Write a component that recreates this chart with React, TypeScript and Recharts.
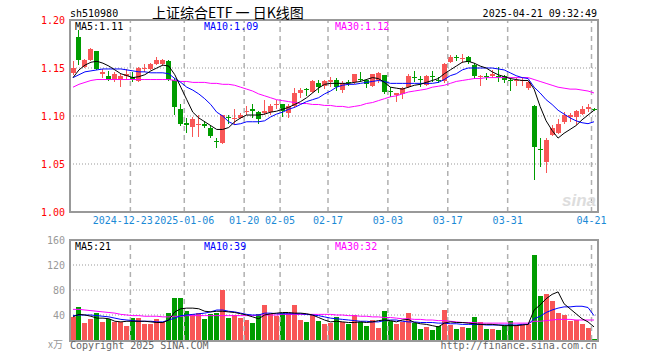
import { ComposedChart, Bar, Line, XAxis, YAxis, CartesianGrid, ReferenceLine } from 'recharts';

// trading days shown on the chart
const dates = [
  '2024-12-09', '2024-12-10', '2024-12-11', '2024-12-12', '2024-12-13', '2024-12-16', '2024-12-17', '2024-12-18', '2024-12-19', '2024-12-20',
  '2024-12-23', '2024-12-24', '2024-12-25', '2024-12-26', '2024-12-27', '2024-12-30', '2024-12-31', '2025-01-02', '2025-01-03', '2025-01-06',
  '2025-01-07', '2025-01-08', '2025-01-09', '2025-01-10', '2025-01-13', '2025-01-14', '2025-01-15', '2025-01-16', '2025-01-17', '2025-01-20',
  '2025-01-21', '2025-01-22', '2025-01-23', '2025-01-24', '2025-01-27', '2025-02-05', '2025-02-06', '2025-02-07', '2025-02-10', '2025-02-11',
  '2025-02-12', '2025-02-13', '2025-02-14', '2025-02-17', '2025-02-18', '2025-02-19', '2025-02-20', '2025-02-21', '2025-02-24', '2025-02-25',
  '2025-02-26', '2025-02-27', '2025-02-28', '2025-03-03', '2025-03-04', '2025-03-05', '2025-03-06', '2025-03-07', '2025-03-10', '2025-03-11',
  '2025-03-12', '2025-03-13', '2025-03-14', '2025-03-17', '2025-03-18', '2025-03-19', '2025-03-20', '2025-03-21', '2025-03-24', '2025-03-25',
  '2025-03-26', '2025-03-27', '2025-03-28', '2025-03-31', '2025-04-01', '2025-04-02', '2025-04-03', '2025-04-07', '2025-04-08', '2025-04-09',
  '2025-04-10', '2025-04-11', '2025-04-14', '2025-04-15', '2025-04-16', '2025-04-17', '2025-04-18', '2025-04-21',
];

const open = [
  1.145, 1.182, 1.151, 1.158, 1.168, 1.144, 1.142, 1.138, 1.138, 1.142,
  1.141, 1.136, 1.149, 1.149, 1.154, 1.154, 1.157, 1.138, 1.107, 1.093,
  1.089, 1.091, 1.092, 1.088, 1.074, 1.072, 1.099, 1.097, 1.098, 1.104,
  1.107, 1.104, 1.103, 1.104, 1.111, 1.112, 1.103, 1.110, 1.124, 1.128,
  1.125, 1.134, 1.131, 1.135, 1.138, 1.127, 1.135, 1.135, 1.139, 1.138,
  1.131, 1.138, 1.143, 1.126, 1.122, 1.123, 1.130, 1.141, 1.139, 1.132,
  1.142, 1.138, 1.136, 1.156, 1.161, 1.159, 1.161, 1.153, 1.141, 1.142,
  1.142, 1.142, 1.142, 1.138, 1.136, 1.137, 1.129, 1.110, 1.066, 1.052,
  1.080, 1.082, 1.094, 1.099, 1.099, 1.102, 1.107, 1.107,
];
const high = [
  1.157, 1.190, 1.159, 1.171, 1.168, 1.149, 1.147, 1.146, 1.144, 1.149,
  1.146, 1.151, 1.154, 1.155, 1.161, 1.159, 1.158, 1.140, 1.112, 1.098,
  1.099, 1.101, 1.095, 1.091, 1.077, 1.101, 1.101, 1.107, 1.103, 1.110,
  1.112, 1.105, 1.117, 1.112, 1.117, 1.113, 1.112, 1.129, 1.129, 1.129,
  1.138, 1.138, 1.137, 1.141, 1.140, 1.136, 1.138, 1.144, 1.146, 1.139,
  1.144, 1.146, 1.143, 1.130, 1.124, 1.130, 1.144, 1.147, 1.142, 1.143,
  1.147, 1.141, 1.155, 1.164, 1.164, 1.165, 1.162, 1.155, 1.143, 1.145,
  1.148, 1.151, 1.143, 1.140, 1.140, 1.140, 1.136, 1.111, 1.077, 1.077,
  1.091, 1.097, 1.104, 1.103, 1.106, 1.110, 1.112, 1.108,
];
const low = [
  1.143, 1.153, 1.150, 1.157, 1.148, 1.140, 1.136, 1.135, 1.130, 1.138,
  1.135, 1.135, 1.146, 1.148, 1.153, 1.152, 1.136, 1.101, 1.090, 1.082,
  1.078, 1.078, 1.088, 1.077, 1.067, 1.071, 1.092, 1.091, 1.097, 1.101,
  1.098, 1.092, 1.101, 1.101, 1.107, 1.099, 1.098, 1.108, 1.119, 1.121,
  1.124, 1.124, 1.128, 1.130, 1.126, 1.124, 1.131, 1.133, 1.135, 1.129,
  1.130, 1.134, 1.123, 1.120, 1.115, 1.118, 1.129, 1.135, 1.130, 1.131,
  1.135, 1.134, 1.134, 1.155, 1.157, 1.155, 1.154, 1.139, 1.131, 1.138,
  1.140, 1.135, 1.134, 1.126, 1.131, 1.131, 1.127, 1.033, 1.047, 1.041,
  1.079, 1.081, 1.092, 1.094, 1.091, 1.101, 1.104, 1.105,
];
const close = [
  1.150, 1.158, 1.158, 1.170, 1.149, 1.146, 1.137, 1.144, 1.142, 1.144,
  1.138, 1.150, 1.150, 1.154, 1.158, 1.158, 1.138, 1.109, 1.092, 1.091,
  1.097, 1.092, 1.090, 1.079, 1.073, 1.101, 1.098, 1.098, 1.101, 1.105,
  1.105, 1.097, 1.105, 1.110, 1.112, 1.105, 1.110, 1.124, 1.127, 1.127,
  1.136, 1.130, 1.136, 1.137, 1.130, 1.134, 1.134, 1.144, 1.138, 1.133,
  1.144, 1.145, 1.125, 1.125, 1.124, 1.129, 1.142, 1.140, 1.138, 1.142,
  1.141, 1.136, 1.154, 1.161, 1.160, 1.160, 1.156, 1.142, 1.142, 1.141,
  1.144, 1.141, 1.138, 1.137, 1.138, 1.138, 1.135, 1.068, 1.065, 1.075,
  1.087, 1.092, 1.101, 1.101, 1.105, 1.107, 1.109, 1.106,
];
// volume, 万手
const volume = [
  37, 53, 28, 34, 43, 29, 34, 29, 29, 23,
  36, 36, 25, 25, 34, 29, 44, 68, 68, 46,
  41, 43, 34, 41, 44, 80, 36, 40, 36, 32,
  28, 42, 56, 42, 39, 44, 44, 56, 32, 29,
  40, 30, 26, 28, 37, 29, 25, 40, 29, 23,
  32, 20, 46, 30, 26, 29, 43, 28, 18, 21,
  16, 22, 48, 24, 18, 21, 19, 37, 29, 18,
  18, 16, 22, 30, 24, 24, 25, 136, 70, 73,
  62, 44, 40, 30, 32, 26, 19, 1.5,
];

// moving averages as drawn
const ma5 = [
  1.140, 1.148, 1.153, 1.156, 1.157, 1.155, 1.152, 1.148, 1.144, 1.142,
  1.140, 1.141, 1.143, 1.147, 1.150, 1.153, 1.152, 1.143, 1.130, 1.117,
  1.104, 1.098, 1.094, 1.090, 1.086, 1.086, 1.088, 1.094, 1.098, 1.101,
  1.101, 1.101, 1.102, 1.104, 1.105, 1.107, 1.109, 1.112, 1.115, 1.119,
  1.124, 1.129, 1.133, 1.134, 1.134, 1.134, 1.134, 1.135, 1.136, 1.138,
  1.140, 1.139, 1.135, 1.130, 1.129, 1.128, 1.130, 1.132, 1.133, 1.135,
  1.137, 1.139, 1.144, 1.148, 1.152, 1.156, 1.157, 1.155, 1.152, 1.150,
  1.146, 1.143, 1.141, 1.139, 1.138, 1.137, 1.137, 1.128, 1.110, 1.095,
  1.085, 1.077, 1.082, 1.086, 1.090, 1.096, 1.101, 1.106,
];
const ma10 = [
  1.140, 1.143, 1.146, 1.147, 1.148, 1.149, 1.149, 1.149, 1.149, 1.148,
  1.147, 1.146, 1.146, 1.145, 1.145, 1.145, 1.144, 1.139, 1.135, 1.130,
  1.127, 1.123, 1.118, 1.112, 1.104, 1.100, 1.094, 1.091, 1.092, 1.094,
  1.094, 1.094, 1.095, 1.099, 1.102, 1.104, 1.107, 1.109, 1.112, 1.115,
  1.117, 1.119, 1.123, 1.126, 1.130, 1.132, 1.133, 1.133, 1.134, 1.135,
  1.136, 1.137, 1.136, 1.134, 1.134, 1.134, 1.134, 1.134, 1.134, 1.134,
  1.134, 1.135, 1.138, 1.142, 1.144, 1.148, 1.150, 1.150, 1.150, 1.150,
  1.150, 1.149, 1.148, 1.145, 1.142, 1.140, 1.139, 1.130, 1.124, 1.117,
  1.112, 1.106, 1.102, 1.098, 1.095, 1.093, 1.092, 1.094,
];
const ma30 = [
  1.130, 1.133, 1.135, 1.137, 1.138, 1.138, 1.138, 1.138, 1.138, 1.138,
  1.138, 1.138, 1.138, 1.138, 1.138, 1.138, 1.138, 1.137, 1.136, 1.136,
  1.135, 1.135, 1.135, 1.134, 1.134, 1.133, 1.133, 1.132, 1.130, 1.128,
  1.126, 1.123, 1.121, 1.119, 1.117, 1.116, 1.115, 1.114, 1.113, 1.113,
  1.112, 1.112, 1.111, 1.111, 1.110, 1.110, 1.109, 1.110, 1.111, 1.113,
  1.114, 1.116, 1.118, 1.120, 1.121, 1.123, 1.125, 1.126, 1.127, 1.128,
  1.130, 1.131, 1.132, 1.134, 1.136, 1.137, 1.138, 1.139, 1.139, 1.140,
  1.140, 1.140, 1.140, 1.140, 1.140, 1.140, 1.140, 1.138, 1.136, 1.134,
  1.132, 1.130, 1.129, 1.128, 1.128, 1.127, 1.126, 1.124,
];
const volMa5 = [
  37, 41, 40, 38, 35, 35, 34, 30, 29, 30,
  30, 30, 30, 29, 28, 28, 32, 45, 50, 51,
  51, 50, 46, 45, 46, 46, 45, 44, 42, 40,
  37, 34, 40, 42, 43, 44, 44, 43, 43, 42,
  40, 36, 32, 29, 30, 29, 28, 28, 29, 28,
  29, 31, 32, 31, 29, 32, 33, 28, 26, 25,
  23, 21, 27, 29, 28, 28, 27, 26, 25, 25,
  25, 24, 23, 23, 23, 24, 25, 48, 56, 66,
  73, 77, 58, 50, 42, 34, 29, 21,
];
const volMa10 = [
  39, 40, 40, 40, 39, 38, 37, 35, 33, 32,
  31, 30, 30, 30, 29, 29, 32, 35, 39, 40,
  41, 42, 43, 45, 48, 48, 46, 45, 43, 41,
  40, 40, 43, 43, 42, 42, 42, 42, 42, 41,
  40, 39, 37, 35, 34, 33, 32, 31, 30, 30,
  29, 29, 31, 32, 32, 30, 29, 29, 28, 28,
  28, 27, 27, 26, 26, 25, 25, 25, 25, 24,
  24, 24, 24, 24, 24, 25, 25, 34, 38, 44,
  48, 51, 53, 53, 54, 54, 52, 39,
];
const volMa30 = [
  49, 49, 48, 47, 46, 45, 44, 43, 41, 40,
  39, 39, 38, 38, 38, 37, 37, 38, 38, 39,
  39, 39, 39, 39, 39, 39, 39, 39, 39, 39,
  39, 40, 40, 40, 40, 41, 41, 41, 41, 41,
  41, 41, 41, 41, 40, 40, 39, 39, 38, 38,
  37, 37, 36, 36, 35, 34, 34, 33, 33, 32,
  32, 31, 31, 30, 29, 28, 28, 28, 27, 27,
  27, 27, 27, 27, 27, 27, 27, 30, 30, 31,
  32, 33, 33, 33, 32, 32, 32, 32,
];

const gridDates = ['2024-12-23', '2025-01-06', '2025-01-20', '2025-02-05', '2025-02-17', '2025-03-03', '2025-03-17', '2025-03-31', '2025-04-21'];
const priceTicks = [1.0, 1.05, 1.1, 1.15, 1.2];
const volTicks = [40, 80, 120, 160];

const RED = '#f85656';
const GREEN = '#009c00';
const MONO = '"DejaVu Sans Mono", monospace';
const GRID_SHIFT = -2.5; // sina draws its date lines a little left of the candle centre

const rows = dates.map((date, i) => ({
  date,
  open: open[i],
  high: high[i],
  low: low[i],
  close: close[i],
  range: [low[i], high[i]],
  vol: volume[i],
  ma5: ma5[i],
  ma10: ma10[i],
  ma30: ma30[i],
  vma5: volMa5[i],
  vma10: volMa10[i],
  vma30: volMa30[i],
}));

// candle drawn inside the [low, high] bar that recharts positions for us
const Candle = (props: any) => {
  const { x, y, width, height, payload } = props;
  if (x == null || !payload) return null;
  const top = Math.min(y, y + height);
  const h = Math.abs(height);
  const span = payload.high - payload.low;
  const toY = (v: number) => (span > 0 ? top + ((payload.high - v) / span) * h : top);
  const color = payload.close >= payload.open ? RED : GREEN;
  const px = Math.floor(x + width / 2);
  const bTop = Math.round(toY(Math.max(payload.open, payload.close)));
  const bBot = Math.round(toY(Math.min(payload.open, payload.close)));
  return (
    <g>
      <line x1={px + 0.5} x2={px + 0.5} y1={Math.round(top)} y2={Math.round(top + h)} stroke={color} strokeWidth={1} />
      <rect x={px - 2} y={bTop} width={5} height={Math.max(1, bBot - bTop)} fill={color} />
    </g>
  );
};

const VolBar = (props: any) => {
  const { x, y, width, height, payload } = props;
  if (x == null || !payload) return null;
  const color = payload.close >= payload.open ? RED : GREEN;
  const px = Math.floor(x + width / 2);
  const t = Math.round(Math.min(y, y + height));
  const b = Math.round(Math.max(y, y + height));
  return <rect x={px - 2} y={b - Math.max(1, b - t)} width={5} height={Math.max(1, b - t)} fill={color} />;
};

const fmtDate = (d: string) => (d < '2025-01-07' ? d : d.slice(5));

const DateTick = (props: any) => {
  const { x, y, payload } = props;
  const d = payload.value;
  const first = d === gridDates[0];
  return (
    <text
      x={first ? x + 20 : x + GRID_SHIFT}
      y={y}
      dy="0.71em"
      textAnchor={first ? 'end' : 'middle'}
      fill="#1b8ad6"
      fontSize={10}
      fontFamily={MONO}
    >
      {fmtDate(d)}
    </text>
  );
};

const GridLine = (p: any) => (
  <line x1={p.x1 + GRID_SHIFT} x2={p.x2 + GRID_SHIFT} y1={p.y1} y2={p.y2} stroke="#b0b0b0" strokeWidth={1.5} strokeDasharray="5 4" />
);

export default function App() {
  const last = rows.length - 1;
  const textStyle = { fontFamily: MONO, fontSize: 10 };

  return (
    <div style={{ position: 'absolute', left: 0, top: 0, width: 660, height: 360, background: '#fff', overflow: 'hidden' }}>
      {/* price panel */}
      <div style={{ position: 'absolute', left: 0, top: 0 }}>
        <ComposedChart width={660} height={232} data={rows} margin={{ top: 20, right: 63, bottom: 0, left: 0 }} barCategoryGap={0} barGap={0}>
          <CartesianGrid vertical={false} stroke="#999" strokeDasharray="1 2" />
          {gridDates.map((d) => (
            <ReferenceLine key={d} x={d} shape={GridLine} />
          ))}
          <XAxis
            dataKey="date"
            ticks={gridDates}
            interval={0}
            axisLine={false}
            tickLine={false}
            tickSize={0}
            tickMargin={5}
            height={20}
            tick={<DateTick />}
          />
          <YAxis
            domain={[1.0, 1.2]}
            ticks={priceTicks}
            allowDataOverflow
            width={70}
            axisLine={false}
            tickLine={false}
            tickSize={0}
            tickMargin={5}
            tickFormatter={(v: number) => v.toFixed(2)}
            tick={{ fill: '#f00', fontSize: 10, fontFamily: MONO }}
          />
          <Bar dataKey="range" shape={(p: any) => <Candle {...p} />} isAnimationActive={false} />
          <Line dataKey="ma30" stroke="#f0f" strokeWidth={1} dot={false} isAnimationActive={false} />
          <Line dataKey="ma10" stroke="#00f" strokeWidth={1} dot={false} isAnimationActive={false} />
          <Line dataKey="ma5" stroke="#000" strokeWidth={1} dot={false} isAnimationActive={false} />
        </ComposedChart>
      </div>

      {/* volume panel */}
      <div style={{ position: 'absolute', left: 0, top: 232 }}>
        <ComposedChart width={660} height={110} data={rows} margin={{ top: 8, right: 63, bottom: 2, left: 0 }} barCategoryGap={0} barGap={0}>
          <CartesianGrid vertical={false} stroke="#999" strokeDasharray="1 2" />
          {gridDates.map((d) => (
            <ReferenceLine key={d} x={d} shape={GridLine} />
          ))}
          <XAxis dataKey="date" hide />
          <YAxis
            domain={[0, 160]}
            ticks={volTicks}
            allowDataOverflow
            width={70}
            axisLine={false}
            tickLine={false}
            tickSize={0}
            tickMargin={5}
            tick={{ fill: '#999', fontSize: 10, fontFamily: MONO }}
          />
          <Bar dataKey="vol" shape={(p: any) => <VolBar {...p} />} isAnimationActive={false} />
          <Line dataKey="vma30" stroke="#f0f" strokeWidth={1} dot={false} isAnimationActive={false} />
          <Line dataKey="vma10" stroke="#00f" strokeWidth={1} dot={false} isAnimationActive={false} />
          <Line dataKey="vma5" stroke="#000" strokeWidth={1} dot={false} isAnimationActive={false} />
        </ComposedChart>
      </div>

      {/* panel borders */}
      <div style={{ position: 'absolute', left: 69, top: 19, width: 530, height: 194, border: '2px solid #999', boxSizing: 'border-box', pointerEvents: 'none' }} />
      <div style={{ position: 'absolute', left: 69, top: 239, width: 530, height: 103, border: '2px solid #999', boxSizing: 'border-box', pointerEvents: 'none' }} />

      {/* titles and labels */}
      <svg width={660} height={360} style={{ position: 'absolute', left: 0, top: 0, pointerEvents: 'none' }}>
        <text x={70} y={17} fill="#000" style={textStyle}>sh510980</text>
        <text x={152} y={18} fill="#000" fontSize={14} fontFamily='"Noto Sans CJK SC", sans-serif'>上证综合ETF 一 日K线图</text>
        <text x={597} y={17} fill="#000" textAnchor="end" style={textStyle}>2025-04-21 09:32:49</text>

        <text x={75} y={30} fill="#000" style={textStyle}>MA5:{ma5[last].toFixed(2)}</text>
        <text x={204} y={30} fill="#00f" style={textStyle}>MA10:{ma10[last].toFixed(2)}</text>
        <text x={335} y={30} fill="#f0f" style={textStyle}>MA30:{ma30[last].toFixed(2)}</text>

        <text x={75} y={250} fill="#000" style={textStyle}>MA5:{volMa5[last]}</text>
        <text x={204} y={250} fill="#00f" style={textStyle}>MA10:{volMa10[last]}</text>
        <text x={335} y={250} fill="#f0f" style={textStyle}>MA30:{volMa30[last]}</text>

        <text x={596} y={206} fill="#ddd" textAnchor="end" fontSize={17} fontStyle="italic" fontWeight="bold" fontFamily="Liberation Sans, sans-serif">sina</text>

        <text x={48} y={348} fill="#999" fontSize={10} fontFamily='"Noto Sans CJK SC", sans-serif'>x万</text>
        <text x={70} y={349} fill="#666" style={textStyle}>Copyright 2025 SINA.COM</text>
        <text x={597} y={349} fill="#666" textAnchor="end" style={textStyle}>http://finance.sina.com.cn</text>
      </svg>
    </div>
  );
}
